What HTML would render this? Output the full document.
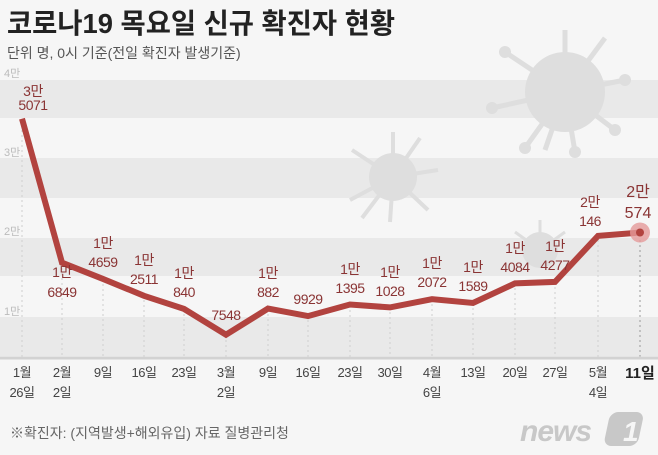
<!DOCTYPE html>
<html><head><meta charset="utf-8"><style>
body{margin:0;background:#f6f6f6;}
svg{display:block;font-family:"Liberation Sans","Noto Sans CJK KR",sans-serif;}
</style></head><body>
<svg width="658" height="455" viewBox="0 0 658 455" xmlns="http://www.w3.org/2000/svg">
<rect width="658" height="455" fill="#f6f6f6"/>
<g fill="#e9e9e9">
<rect x="0" y="80" width="658" height="38"/>
<rect x="0" y="158" width="658" height="40"/>
<rect x="0" y="238" width="658" height="38"/>
<rect x="0" y="317" width="658" height="39"/>
</g>
<!-- viruses -->
<g fill="#dedede" stroke="#dedede">
<circle cx="565" cy="92" r="40" stroke="none"/>
<g stroke-width="5">
<line x1="565" y1="92" x2="565" y2="30"/><line x1="565" y1="92" x2="625" y2="80"/><line x1="565" y1="92" x2="615" y2="130"/>
<line x1="565" y1="92" x2="575" y2="152"/><line x1="565" y1="92" x2="525" y2="148"/><line x1="565" y1="92" x2="492" y2="108"/>
<line x1="565" y1="92" x2="505" y2="52"/><line x1="565" y1="92" x2="605" y2="38"/><line x1="565" y1="92" x2="545" y2="150"/>
</g>
<circle cx="625" cy="80" r="6" stroke="none"/><circle cx="615" cy="130" r="6" stroke="none"/><circle cx="492" cy="108" r="6" stroke="none"/>
<circle cx="505" cy="52" r="6" stroke="none"/><circle cx="525" cy="148" r="6" stroke="none"/><circle cx="575" cy="152" r="6" stroke="none"/>
<circle cx="393" cy="177" r="24" stroke="none"/>
<g stroke-width="4">
<line x1="393" y1="177" x2="393" y2="132"/><line x1="393" y1="177" x2="438" y2="170"/><line x1="393" y1="177" x2="428" y2="210"/>
<line x1="393" y1="177" x2="390" y2="222"/><line x1="393" y1="177" x2="350" y2="200"/><line x1="393" y1="177" x2="352" y2="150"/>
<line x1="393" y1="177" x2="420" y2="138"/><line x1="393" y1="177" x2="362" y2="218"/>
</g>
<circle cx="540" cy="250" r="18" stroke="none"/>
<g stroke-width="3"><line x1="540" y1="250" x2="540" y2="220"/><line x1="540" y1="250" x2="515" y2="232"/><line x1="540" y1="250" x2="565" y2="232"/></g>
</g>
<!-- axis labels -->
<g font-size="11" fill="#bbb">
<text x="4" y="77">4만</text><text x="4" y="156">3만</text><text x="4" y="235">2만</text><text x="4" y="315">1만</text>
</g>
<!-- dashed verticals -->
<g stroke="#cfcfcf" stroke-width="1" stroke-dasharray="2,3">
<line x1="22" y1="125" x2="22" y2="358"/><line x1="62" y1="268" x2="62" y2="358"/><line x1="103" y1="284" x2="103" y2="358"/>
<line x1="144" y1="300" x2="144" y2="358"/><line x1="184" y1="314" x2="184" y2="358"/><line x1="226" y1="340" x2="226" y2="358"/>
<line x1="268" y1="314" x2="268" y2="358"/><line x1="308" y1="320" x2="308" y2="358"/><line x1="350" y1="310" x2="350" y2="358"/>
<line x1="390" y1="312" x2="390" y2="358"/><line x1="432" y1="304" x2="432" y2="358"/><line x1="473" y1="308" x2="473" y2="358"/>
<line x1="515" y1="288" x2="515" y2="358"/><line x1="555" y1="287" x2="555" y2="358"/><line x1="598" y1="240" x2="598" y2="358"/>
<line x1="640" y1="240" x2="640" y2="358" stroke="#999"/>
</g>
<line x1="0" y1="358" x2="658" y2="358" stroke="#d2d2d2" stroke-width="3"/>
<!-- series -->
<polyline fill="none" stroke="#b2433f" stroke-width="6" stroke-linejoin="miter" points="22,118.7 62,262.7 103,278.9 144,295.8 184,308.9 226,334.7 268,308.6 308,316.1 350,304.5 390,307.4 432,299.2 473,303 515,283.4 555,281.9 598,235.9 640,232.5"/>
<circle cx="640" cy="232.5" r="10" fill="#e59a9a" opacity="0.8"/>
<circle cx="640" cy="232.5" r="4" fill="#b2433f"/>
<!-- value labels -->
<g font-size="14" fill="#8a3434" text-anchor="middle" letter-spacing="-0.5">
<text x="33" y="96">3만</text><text x="33" y="110">5071</text>
<text x="62" y="277">1만</text><text x="62" y="297">6849</text>
<text x="103" y="248">1만</text><text x="103" y="267">4659</text>
<text x="144" y="265">1만</text><text x="144" y="284">2511</text>
<text x="184" y="278">1만</text><text x="184" y="297">840</text>
<text x="226" y="320">7548</text>
<text x="268" y="278">1만</text><text x="268" y="297">882</text>
<text x="308" y="304">9929</text>
<text x="350" y="274">1만</text><text x="350" y="293">1395</text>
<text x="390" y="277">1만</text><text x="390" y="296">1028</text>
<text x="432" y="268">1만</text><text x="432" y="287">2072</text>
<text x="473" y="272">1만</text><text x="473" y="291">1589</text>
<text x="515" y="253">1만</text><text x="515" y="272">4084</text>
<text x="555" y="251">1만</text><text x="555" y="270">4277</text>
<text x="590" y="207">2만</text><text x="590" y="226">146</text>
</g>
<g font-size="16" fill="#8a3434" text-anchor="middle">
<text x="638" y="197">2만</text><text x="638" y="218">574</text>
</g>
<!-- x labels -->
<g font-size="13" fill="#444" text-anchor="middle" letter-spacing="-0.5">
<text x="22" y="377">1월</text><text x="22" y="397">26일</text>
<text x="62" y="377">2월</text><text x="62" y="397">2일</text>
<text x="103" y="377">9일</text><text x="144" y="377">16일</text><text x="184" y="377">23일</text>
<text x="226" y="377">3월</text><text x="226" y="397">2일</text>
<text x="268" y="377">9일</text><text x="308" y="377">16일</text><text x="350" y="377">23일</text><text x="390" y="377">30일</text>
<text x="432" y="377">4월</text><text x="432" y="397">6일</text>
<text x="473" y="377">13일</text><text x="515" y="377">20일</text><text x="555" y="377">27일</text>
<text x="598" y="377">5월</text><text x="598" y="397">4일</text>
</g>
<text x="640" y="378" font-size="15" font-weight="bold" fill="#222" text-anchor="middle">11일</text>
<!-- title -->
<text x="7" y="33" font-size="28" font-weight="bold" fill="#222" textLength="388" lengthAdjust="spacingAndGlyphs">코로나19 목요일 신규 확진자 현황</text>
<text x="7" y="58" font-size="14" fill="#555">단위  명, 0시 기준(전일 확진자 발생기준)</text>
<!-- footer -->
<text x="10" y="438" font-size="14" fill="#666">※확진자: (지역발생+해외유입)  자료  질병관리청</text>
<text x="520" y="441" font-size="30" font-style="italic" font-weight="bold" fill="#c8c8c8" letter-spacing="-1">news</text>
<rect x="608" y="412" width="34" height="34" rx="8" fill="#c8c8c8" transform="skewX(-12) translate(90,0)"/>
<text x="623" y="441" font-size="28" font-weight="bold" font-style="italic" fill="#f6f6f6">1</text>
</svg>
</body></html>
